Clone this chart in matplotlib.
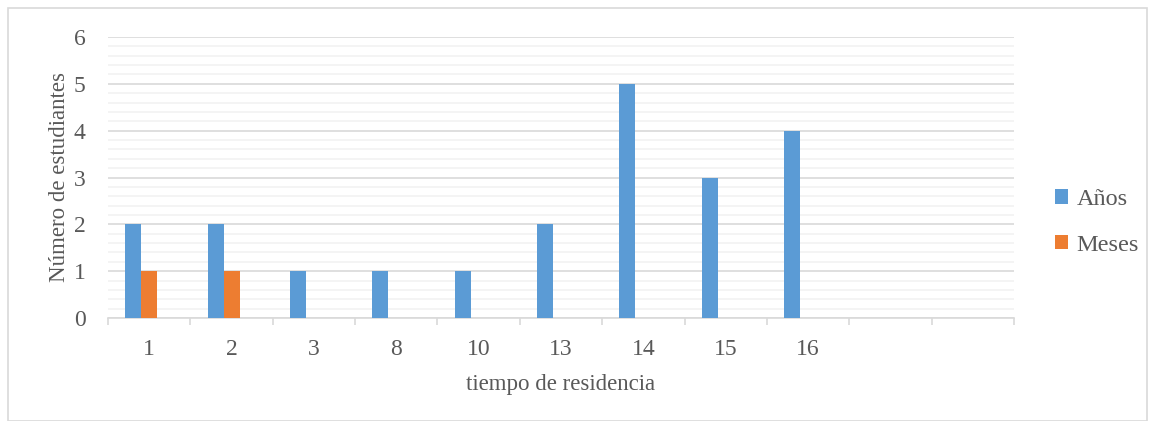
import matplotlib.pyplot as plt
import numpy as np
from matplotlib.patches import Rectangle

plt.rcParams['font.family'] = ['Liberation Serif', 'DejaVu Serif']

categories = ['1', '2', '3', '8', '10', '13', '14', '15', '16', '', '']
anos = [2, 2, 1, 1, 1, 2, 5, 3, 4, 0, 0]
meses = [1, 1, 0, 0, 0, 0, 0, 0, 0, 0, 0]

gray = '#595959'
fig = plt.figure(figsize=(11.49, 4.21), dpi=100)
ax = fig.add_axes([108/1149, 1 - 318/421, (1014-108)/1149, (318-37)/421])

x = np.arange(len(categories))
w = 0.194
ax.bar(x - w, anos, w, align='center', color='#5B9BD5', label='Años', zorder=3)
ax.bar(x, meses, w, align='center', color='#ED7D31', label='Meses', zorder=3)

ax.set_xlim(-0.5, len(categories) - 0.5)
ax.set_ylim(0, 6)
ax.set_yticks(range(0, 7))
ax.set_yticks(np.arange(0, 6.01, 0.2), minor=True)
ax.grid(axis='y', which='major', color='#d9d9d9', linewidth=1.2, zorder=0)
ax.grid(axis='y', which='minor', color='#f2f2f2', linewidth=1.2, zorder=0)
ax.tick_params(axis='y', which='both', length=0, labelsize=17, labelcolor=gray, pad=16)

ax.set_xticks(x)
ax.set_xticklabels(categories)
ax.set_xticks(np.arange(-0.5, len(categories)), minor=True)
ax.tick_params(axis='x', which='major', length=0, labelsize=17, labelcolor=gray, pad=15)
ax.tick_params(axis='x', which='minor', length=5, color='#d9d9d9', width=1.2)

for s in ['top', 'right', 'left']:
    ax.spines[s].set_visible(False)
ax.spines['bottom'].set_color('#d9d9d9')
ax.spines['bottom'].set_linewidth(1.2)

ax.set_xlabel('tiempo de residencia', fontsize=16.5, color=gray, labelpad=10)
ax.set_ylabel('Número de estudiantes', fontsize=16.5, color=gray, labelpad=3)

ax.legend(loc='center left', bbox_to_anchor=(1.021, 0.34), frameon=False,
          fontsize=17.5, labelcolor=gray, handlelength=0.55, handleheight=0.55,
          handletextpad=0.35, labelspacing=1.0)

fig.patches.append(Rectangle((8/1149, 0), 1 - 10/1149, 1 - 8/421, transform=fig.transFigure,
                             fill=False, edgecolor='#d9d9d9', linewidth=1.2))

fig.savefig('out.png', dpi=100)
